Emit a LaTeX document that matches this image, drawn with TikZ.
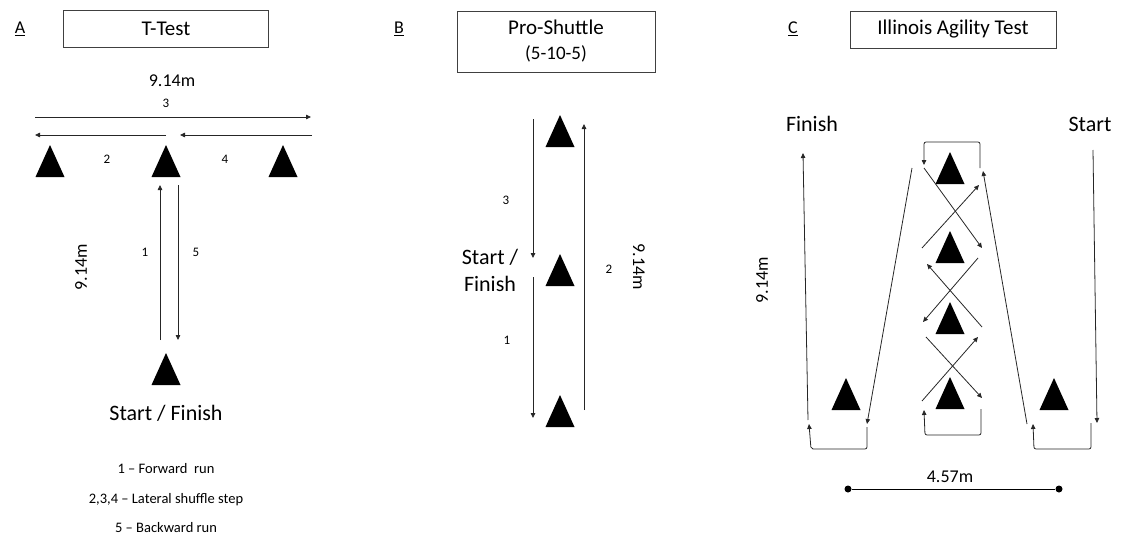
\documentclass[tikz,border=0pt]{standalone}
\usepackage{fontspec}
\setmainfont{Carlito}
\usetikzlibrary{arrows.meta,positioning}

\tikzset{
  cone/.style={minimum width=29pt, minimum height=32pt, inner sep=0pt, outer sep=0pt,
    path picture={\fill[black] (path picture bounding box.south west)
      -- (path picture bounding box.north) -- (path picture bounding box.south east) -- cycle;}},
  title/.style={draw=black!75, line width=0.9pt, inner sep=0pt, align=center,
    font=\fontsize{21}{25}\selectfont},
  tag/.style={inner sep=0pt, anchor=base, font=\fontsize{18}{21}\selectfont},
  num/.style={inner sep=0pt, anchor=base, font=\fontsize{13}{15}\selectfont},
  dist/.style={inner sep=0pt, anchor=base, font=\fontsize{18}{21}\selectfont},
  big/.style={inner sep=0pt, anchor=base, font=\fontsize{22}{26}\selectfont},
  note/.style={inner sep=0pt, anchor=base, font=\fontsize{14.5}{17}\selectfont},
  run/.style={draw=black!85, line width=0.8pt, -{Triangle[length=5pt,width=4.5pt]}},
  loop/.style={run, rounded corners=2pt},
  dot/.style={circle, fill=black, inner sep=0pt, minimum size=7pt}
}

\begin{document}
\begin{tikzpicture}[x=1pt,y=-1pt]
\useasboundingbox (0,0) rectangle (1125,538);

% T-Test
\node[tag] (TagA) at (20,34) {\underline{A}};
\node[title, minimum width=205pt, minimum height=37pt] (TTest) at (166,29) {T-Test};
\node[cone] (TLeft) at (50,161) {};
\node[cone] (TMid) at (166,161) {};
\node[cone] (TRight) at (283,161) {};
\node[cone] (TBase) at (166,369) {};

\coordinate (T3a) at (35,117);  \coordinate (T3b) at (311,117);
\coordinate (T2a) at (166,135); \coordinate (T2b) at (35,135);
\coordinate (T4a) at (312,135); \coordinate (T4b) at (180,135);
\coordinate (T1a) at (160,340); \coordinate (T1b) at (160,185);
\coordinate (T5a) at (178,185); \coordinate (T5b) at (178,340);
\draw[run] (T3a) -- (T3b);
\draw[run] (T2a) -- (T2b);
\draw[run] (T4a) -- (T4b);
\draw[run] (T1a) -- (T1b);
\draw[run] (T5a) -- (T5b);

\node[dist] (TWidth) at (172,86) {9.14m};
\node[num] (TNum3) at (166,107) {3};
\node[num] (TNum2) at (107,163) {2};
\node[num] (TNum4) at (225,163) {4};
\node[num] (TNum1) at (145,256) {1};
\node[num] (TNum5) at (196,256) {5};
\node[dist, anchor=center, rotate=90] (TLength) at (81,267) {9.14m};
\node[big] (TStart) at (166,420) {Start / Finish};
\node[note] (TKey1) at (166,473) {1 -- Forward\ \ run};
\node[note] (TKey2) at (166,503) {2,3,4 -- Lateral shuffle step};
\node[note] (TKey3) at (166,532) {5 -- Backward run};

% Pro-Shuttle
\node[tag] (TagB) at (399,34) {\underline{B}};
\node[title, minimum width=198pt, minimum height=61pt] (ProShuttle) at (556,41.5)
  {Pro-Shuttle\\{\fontsize{19}{25}\selectfont(5-10-5)}};
\node[cone] (PTop) at (560,131) {};
\node[cone] (PMid) at (560,270) {};
\node[cone] (PLow) at (560,411) {};

\coordinate (P3a) at (533,119); \coordinate (P3b) at (533,258);
\coordinate (P1a) at (533,277); \coordinate (P1b) at (533,418);
\coordinate (P2a) at (584,410); \coordinate (P2b) at (584,124);
\draw[run] (P3a) -- (P3b);
\draw[run] (P1a) -- (P1b);
\draw[run] (P2a) -- (P2b);

\node[num] (PNum3) at (506,204) {3};
\node[num] (PNum1) at (507,344) {1};
\node[num] (PNum2) at (609,273) {2};
\node[dist, anchor=center, rotate=-90] (PLength) at (639,267) {9.14m};
\node[big] (PStart) at (490,264) {Start /};
\node[big] (PFinish) at (490,291) {Finish};

% Illinois Agility Test
\node[tag] (TagC) at (793,34) {\underline{C}};
\node[title, minimum width=206pt, minimum height=37pt] (Illinois) at (953,29.5) {Illinois Agility Test};
\node[cone] (ILeft) at (846,394) {};
\node[cone] (IRight) at (1054,394) {};
\node[cone] (IMid1) at (950,168) {};
\node[cone] (IMid2) at (950,247) {};
\node[cone] (IMid3) at (950,318) {};
\node[cone] (IMid4) at (950,393) {};

\coordinate (IS1) at (1093,150);  \coordinate (IS2) at (1097,423);
\coordinate (IR1) at (1091,423);  \coordinate (IR2) at (1091,449);
\coordinate (IR3) at (1034,449);  \coordinate (IR4) at (1033,424);
\coordinate (IU1) at (1027,424);  \coordinate (IU2) at (983,171);
\coordinate (IT1) at (980,168);   \coordinate (IT2) at (980,142);
\coordinate (IT3) at (924,142);   \coordinate (IT4) at (924,165);
\coordinate (IX1a) at (924,168);  \coordinate (IX1b) at (982,248);
\coordinate (IX2a) at (922,248);  \coordinate (IX2b) at (979,185);
\coordinate (IX3a) at (978,258);  \coordinate (IX3b) at (923,322);
\coordinate (IX4a) at (982,327);  \coordinate (IX4b) at (927,264);
\coordinate (IX5a) at (926,337);  \coordinate (IX5b) at (982,398);
\coordinate (IX6a) at (922,401);  \coordinate (IX6b) at (978,337);
\coordinate (IB1) at (981,409);   \coordinate (IB2) at (981,435);
\coordinate (IB3) at (925,435);   \coordinate (IB4) at (924,410);
\coordinate (ID1) at (912,168);   \coordinate (ID2) at (867,424);
\coordinate (IL1) at (867,427);   \coordinate (IL2) at (867,449);
\coordinate (IL3) at (811,449);   \coordinate (IL4) at (809,424);
\coordinate (IF1) at (808,420);   \coordinate (IF2) at (803,153);

\draw[run] (IS1) -- (IS2);
\draw[loop] (IR1) -- (IR2) -- (IR3) -- (IR4);
\draw[run] (IU1) -- (IU2);
\draw[loop] (IT1) -- (IT2) -- (IT3) -- (IT4);
\draw[run] (IX1a) -- (IX1b);
\draw[run] (IX2a) -- (IX2b);
\draw[run] (IX3a) -- (IX3b);
\draw[run] (IX4a) -- (IX4b);
\draw[run] (IX5a) -- (IX5b);
\draw[run] (IX6a) -- (IX6b);
\draw[loop] (IB1) -- (IB2) -- (IB3) -- (IB4);
\draw[run] (ID1) -- (ID2);
\draw[loop] (IL1) -- (IL2) -- (IL3) -- (IL4);
\draw[run] (IF1) -- (IF2);

\node[big] (IFinish) at (812,131) {Finish};
\node[big] (IStart) at (1090,131) {Start};
\node[dist, anchor=center, rotate=90] (ILength) at (762,280) {9.14m};
\node[dot] (DimL) at (848,489) {};
\node[dot] (DimR) at (1059,489) {};
\draw[line width=0.9pt] (DimL) -- (DimR);
\node[dist] (IWidth) at (950,482) {4.57m};
\end{tikzpicture}
\end{document}
